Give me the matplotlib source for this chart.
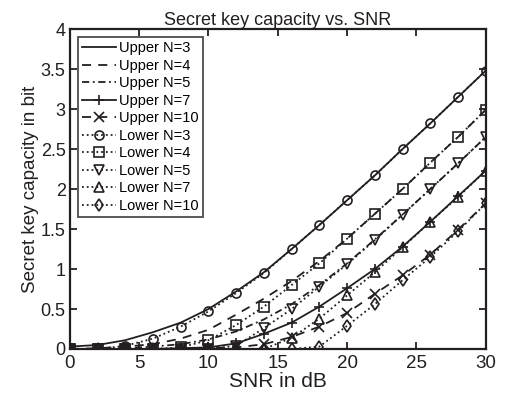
import matplotlib
matplotlib.use("Agg")
import matplotlib.pyplot as plt

# ---------------- DATA ----------------
snr = [0, 2, 4, 6, 8, 10, 12, 14, 16, 18, 20, 22, 24, 26, 28, 30]

upper3 = [0.03, 0.05, 0.11, 0.21, 0.33, 0.50, 0.72, 0.96, 1.25, 1.55, 1.86, 2.17, 2.50, 2.82, 3.15, 3.48]
upper4 = [0.00, 0.01, 0.03, 0.06, 0.13, 0.24, 0.43, 0.63, 0.85, 1.10, 1.38, 1.69, 2.00, 2.33, 2.65, 2.99]
upper5 = [0.00, 0.00, 0.01, 0.03, 0.06, 0.12, 0.22, 0.37, 0.56, 0.80, 1.07, 1.37, 1.68, 2.00, 2.32, 2.65]
upper7 = [0.00, 0.00, 0.00, 0.00, 0.01, 0.02, 0.07, 0.19, 0.33, 0.53, 0.76, 1.00, 1.28, 1.59, 1.91, 2.23]
upper10 = [0.00, 0.00, 0.00, 0.00, 0.00, 0.01, 0.02, 0.06, 0.15, 0.28, 0.45, 0.69, 0.92, 1.18, 1.49, 1.82]

lower3 = [0.00, 0.00, 0.04, 0.13, 0.28, 0.47, 0.70, 0.95, 1.25, 1.55, 1.86, 2.17, 2.50, 2.82, 3.15, 3.48]
lower4 = [0.00, 0.00, 0.00, 0.00, 0.02, 0.11, 0.30, 0.53, 0.80, 1.07, 1.38, 1.69, 2.00, 2.33, 2.65, 2.99]
lower5 = [0.00, 0.00, 0.00, 0.00, 0.00, 0.00, 0.04, 0.26, 0.50, 0.78, 1.06, 1.36, 1.68, 2.00, 2.32, 2.65]
lower7 = [0.00, 0.00, 0.00, 0.00, 0.00, 0.00, 0.00, 0.00, 0.14, 0.38, 0.67, 0.96, 1.27, 1.59, 1.90, 2.23]
lower10 = [0.00, 0.00, 0.00, 0.00, 0.00, 0.00, 0.00, 0.00, 0.00, 0.03, 0.29, 0.56, 0.86, 1.15, 1.47, 1.82]

# ---------------- PLOT ----------------
plt.rcParams["font.family"] = ["Liberation Sans", "DejaVu Sans"]

fig = plt.figure(figsize=(5.06, 4.03), dpi=100)
ax = fig.add_axes([0.138, 0.134, 0.822, 0.794])

k = "#231f20"
lw = 1.3
ms = 6.5
mkw = dict(color=k, lw=lw, ms=ms, mfc="none", mew=1.2)

ax.plot(snr, upper3, "-", label="Upper N=3", **mkw)
ax.plot(snr, upper4, "--", label="Upper N=4", dashes=(5, 4), **mkw)
ax.plot(snr, upper5, "-.", label="Upper N=5", dashes=(4, 2, 1, 2), **mkw)
ax.plot(snr, upper7, "-", marker="+", label="Upper N=7", **mkw)
ax.plot(snr, upper10, "--", marker="x", label="Upper N=10", dashes=(5, 4), **mkw)
ax.plot(snr, lower3, ":", marker="o", label="Lower N=3", **mkw)
ax.plot(snr, lower4, ":", marker="s", label="Lower N=4", **mkw)
ax.plot(snr, lower5, ":", marker="v", label="Lower N=5", **mkw)
ax.plot(snr, lower7, ":", marker="^", label="Lower N=7", **mkw)
ax.plot(snr, lower10, ":", marker="d", label="Lower N=10", **mkw)

ax.set_xlim(0, 30)
ax.set_ylim(0, 4)
ax.set_xticks([0, 5, 10, 15, 20, 25, 30])
ax.set_yticks([0, 0.5, 1, 1.5, 2, 2.5, 3, 3.5, 4])
ax.set_yticklabels(["0", "0.5", "1", "1.5", "2", "2.5", "3", "3.5", "4"])
ax.tick_params(direction="in", top=True, right=True, length=5, width=1.3, colors=k)
ax.tick_params(axis="x", labelsize=13.5, pad=4)
ax.tick_params(axis="y", labelsize=13, pad=3)
for s in ax.spines.values():
    s.set_linewidth(1.6)
    s.set_color(k)

ax.set_xlabel("SNR in dB", fontsize=15, color=k, labelpad=0)
ax.set_ylabel("Secret key capacity in bit", fontsize=13.5, color=k, labelpad=1)
ax.set_title("Secret key capacity vs. SNR", fontsize=13, color=k, pad=3)

leg = ax.legend(loc="upper left", fontsize=10.5, handlelength=2.3, handletextpad=0.2,
                labelspacing=0.24, borderpad=0.3, borderaxespad=0.55,
                fancybox=False, frameon=True)
leg.get_frame().set_edgecolor(k)
leg.get_frame().set_linewidth(1.3)

fig.savefig("out.png", dpi=100)
